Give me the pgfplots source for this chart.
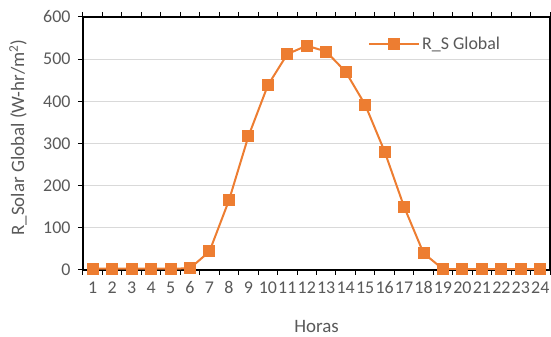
\documentclass[border=0pt]{standalone}
\usepackage{pgfplots}
\pgfplotsset{compat=1.18}
\usepackage{fontspec}
\setmainfont{Carlito}
\definecolor{txt}{HTML}{595959}
\definecolor{ora}{HTML}{ED7D31}
\definecolor{grd}{HTML}{D9D9D9}
\begin{document}
\begin{tikzpicture}
\begin{axis}[
  width=467bp, height=253bp, scale only axis,
  xmin=0.5, xmax=24.5, ymin=0, ymax=600,
  xtick={0.5,1.5,...,24.5},
  xticklabels={},
  extra x ticks={1,...,24},
  extra x tick style={major tick length=0pt, grid=none},
  ytick={0,100,...,600},
  major tick length=5bp,
  tick align=outside,
  tick style={black, line width=1bp},
  ymajorgrids, grid style={grd, line width=1.2bp},
  axis line style={black, line width=1.5bp},
  every tick label/.append style={font=\fontsize{18}{20}\selectfont, text=txt},
  xticklabel style={inner xsep=0pt, yshift=-8bp},
  yticklabel style={xshift=-4bp},
  label style={font=\fontsize{19}{22}\selectfont, text=txt},
  xlabel={Horas},
  xlabel style={at={(axis description cs:0.5,-0.225)}, anchor=center},
  ylabel={R\_Solar Global (W-hr/m\textsuperscript{2})},
  ylabel style={at={(axis description cs:-0.139,0.524)}, anchor=center},
  /pgf/number format/assume math mode=true,
  legend style={draw=none, fill=white, at={(0.754,0.893)}, anchor=center,
     font=\fontsize{18}{20}\selectfont, text=txt, inner xsep=4bp, inner ysep=3bp},
  legend cell align=left,
  legend image code/.code={\draw[#1, mark repeat=2, mark phase=2] plot coordinates {(0bp,0bp) (25bp,0bp) (50bp,0bp)};},
]
\addplot[ora, line width=2bp, mark=square*, mark size=5bp, mark options={solid, fill=ora, draw=ora}]
coordinates {
(1,3)(2,3)(3,3)(4,3)(5,3)(6,4)(7,44)(8,165)(9,317)(10,438)(11,512)(12,532)
(13,518)(14,470)(15,392)(16,281)(17,150)(18,40)(19,2)(20,2)(21,2)(22,2)(23,2)(24,2)};
\addlegendentry{R\_S Global}
\end{axis}
\pgfresetboundingbox
\path[use as bounding box] ([shift={(-83bp,-67bp)}]current axis.south west) rectangle ([shift={(1bp,17bp)}]current axis.north east);
\end{tikzpicture}
\end{document}
